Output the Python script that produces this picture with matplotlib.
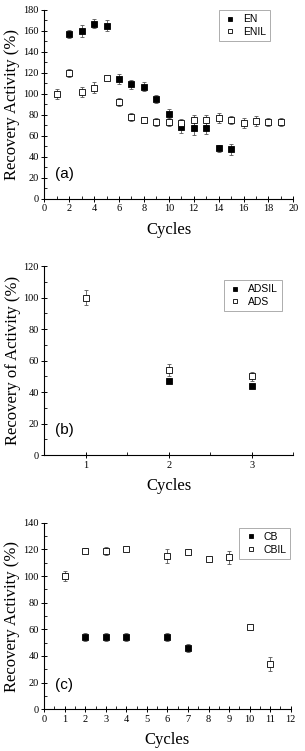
import numpy as np
import matplotlib
matplotlib.use('Agg')
import matplotlib.pyplot as plt
from matplotlib.ticker import MultipleLocator
from matplotlib.lines import Line2D

# panel (a)
en_x = [2, 3, 4, 5, 6, 7, 8, 9, 10, 11, 12, 13, 14, 15]
en_y = [157, 160, 167, 165, 114, 109, 107, 95, 81, 68, 67, 67, 48, 47]
en_err = [4, 6, 4, 5, 5, 4, 4, 4, 5, 5, 6, 5, 3, 5]
enil_x = [1, 2, 3, 4, 5, 6, 7, 8, 9, 10, 11, 12, 13, 14, 15, 16, 17, 18, 19]
enil_y = [100, 120, 102, 106, 115, 92, 78, 75, 73, 73, 72, 75, 75, 77, 75, 72, 74, 73, 73]
enil_err = [5, 4, 5, 5, 2, 4, 4, 3, 4, 4, 4, 5, 5, 5, 4, 5, 5, 4, 4]

# panel (b)
adsil_x = [2, 3]
adsil_y = [47, 44]
adsil_err = [1, 1]
ads_x = [1, 2, 3]
ads_y = [100, 54, 50]
ads_err = [5, 4, 3]

# panel (c)
cb_x = [2, 3, 4, 6, 7]
cb_y = [54, 54, 54, 54, 46]
cb_err = [3, 3, 3, 3, 3]
cbil_x = [1, 2, 3, 4, 6, 7, 8, 9, 10, 11]
cbil_y = [100, 119, 119, 120, 115, 118, 113, 114, 62, 34]
cbil_err = [4, 2, 3, 1, 5, 1, 1, 5, 1, 5]

serif = 'Liberation Serif'
sans = 'Liberation Sans'

fig = plt.figure(figsize=(3.05, 7.51), dpi=100)
ax_a = fig.add_axes([0.145, 0.7354, 0.817, 0.2513])
ax_b = fig.add_axes([0.145, 0.3941, 0.816, 0.2517])
ax_c = fig.add_axes([0.145, 0.0555, 0.808, 0.2485])


def style(ax, xlim, ylim, xmaj, xmin, ymaj, ymin, ylabel, tag):
    ax.set_xlim(*xlim)
    ax.set_ylim(*ylim)
    ax.xaxis.set_major_locator(MultipleLocator(xmaj))
    ax.xaxis.set_minor_locator(MultipleLocator(xmin))
    ax.yaxis.set_major_locator(MultipleLocator(ymaj))
    ax.yaxis.set_minor_locator(MultipleLocator(ymin))
    for s in ['top', 'right']:
        ax.spines[s].set_visible(False)
    for s in ['left', 'bottom']:
        ax.spines[s].set_linewidth(0.8)
    ax.tick_params(which='major', direction='inout', length=4, width=0.7, labelsize=7.5, pad=2)
    ax.tick_params(which='minor', direction='in', length=2, width=0.6)
    for lab in ax.get_xticklabels() + ax.get_yticklabels():
        lab.set_family(serif)
    ax.set_xlabel('Cycles', family=serif, fontsize=12, labelpad=6)
    ax.set_ylabel(ylabel, family=serif, fontsize=12, labelpad=2)
    ax.text(0.045, 0.11, tag, family=sans, fontsize=11, transform=ax.transAxes)


def series(ax, x, y, err, filled):
    ax.errorbar(x, y, yerr=err, fmt='s', ms=4, mfc='black' if filled else 'white',
                mec='black', mew=0.6, ecolor='#555555', elinewidth=0.6, capsize=1.5,
                capthick=0.6)


def legend(ax, labels, anchor):
    handles = [Line2D([], [], ls='none', marker='s', ms=3.5, mfc='black', mec='black', mew=0.6),
               Line2D([], [], ls='none', marker='s', ms=3.5, mfc='white', mec='black', mew=0.6)]
    leg = ax.legend(handles, labels, loc='upper right', prop={'family': sans, 'size': 7.5},
                    frameon=True, fancybox=False, edgecolor='#888888', handlelength=1.4,
                    handletextpad=0.5, borderpad=0.4, labelspacing=0.25,
                    borderaxespad=0, bbox_to_anchor=anchor)
    leg.get_frame().set_linewidth(0.6)


series(ax_a, en_x, en_y, en_err, True)
series(ax_a, enil_x, enil_y, enil_err, False)
style(ax_a, (0, 20), (0, 180), 2, 1, 20, 10, 'Recovery Activity (%)', '(a)')
legend(ax_a, ['EN', 'ENIL'], (0.906, 1.0))

series(ax_b, adsil_x, adsil_y, adsil_err, True)
series(ax_b, ads_x, ads_y, ads_err, False)
style(ax_b, (0.5, 3.5), (0, 120), 1, 0.5, 20, 10, 'Recovery of Activity (%)', '(b)')
legend(ax_b, ['ADSIL', 'ADS'], (0.955, 0.926))

series(ax_c, cb_x, cb_y, cb_err, True)
series(ax_c, cbil_x, cbil_y, cbil_err, False)
style(ax_c, (0, 12), (0, 140), 1, 0.5, 20, 10, 'Recovery Activity (%)', '(c)')
legend(ax_c, ['CB', 'CBIL'], (0.998, 0.972))

fig.savefig('out.png', dpi=100)
